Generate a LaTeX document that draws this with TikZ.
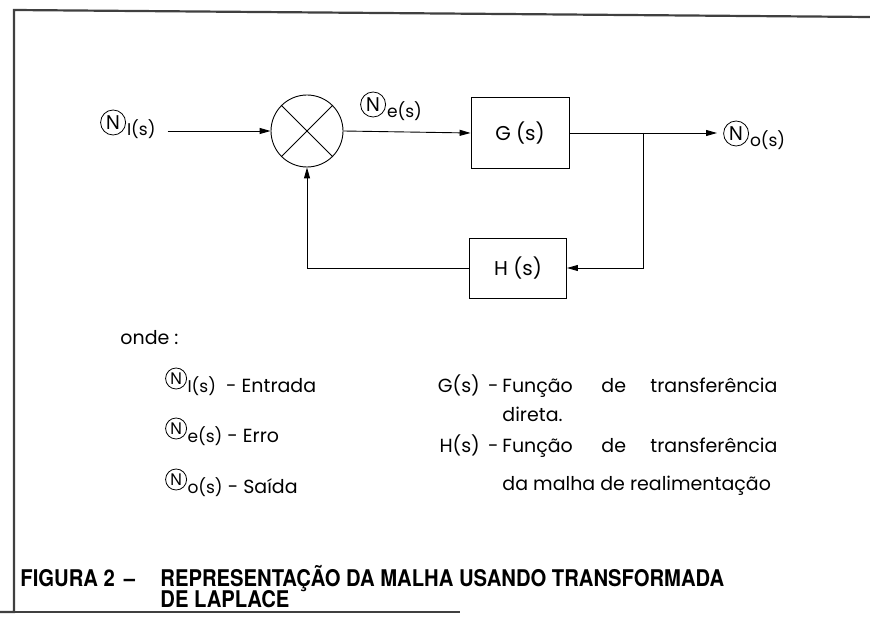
\documentclass[tikz,border=0pt]{standalone}
\usepackage{fontspec}
\setmainfont{Poppins}
\newfontfamily\capfont{TeX Gyre Heros}
\newfontfamily\nfont{TeX Gyre Heros}
\usetikzlibrary{arrows.meta,calc}
% circled N drawn as a ring round the letter N: #1 radius, #2 font size, #3 baseline offset (radius+raise)
\newcommand{\cNsym}[3]{\tikz[baseline={([yshift=-#3pt]cnaux.center)}]{\node[inner sep=0pt,font=\nfont\fontsize{#2}{#2}\selectfont] (cnaux) {N};\draw[line width=0.8pt] (cnaux.center) circle[radius=#1pt];}}
\newcommand{\cN}[1]{\cNsym{10.5}{16}{13.5}\kern0.5pt{\fontsize{17}{18}\selectfont #1}}
\newcommand{\cNd}[1]{\cNsym{12.5}{19}{13.5}\kern1pt{\fontsize{17}{18}\selectfont #1}}
\begin{document}
\begin{tikzpicture}[x=1pt,y=-1pt,line width=0.9pt,
  blk/.style={draw,minimum width=98pt,minimum height=71pt,inner sep=0pt,font=\fontsize{20}{24}\selectfont},
  arr/.style={-{Triangle[length=11pt,width=6pt]}},
  lbl/.style={inner sep=0pt,anchor=base west,font=\fontsize{19}{24}\selectfont},
  txt/.style={inner sep=0pt,anchor=base west,font=\fontsize{19}{23}\selectfont},
  captxt/.style={inner sep=0pt,anchor=base west,font=\capfont\bfseries\fontsize{23}{24}\selectfont}]
\useasboundingbox (0,0) rectangle (870,620);
\draw[line width=2.2pt,black!75] (870,17) -- (14,10) -- (14,612) -- (0,612);
\draw[line width=2.2pt,black!75] (14,612) -- (460,612);
% diagram
\node[lbl] (ni) at (100,136) {\cNd{I(s)}};
\node[draw,circle,minimum size=72pt,inner sep=0pt] (sum) at (307,131) {};
\draw (sum.north west) -- (sum.south east);
\draw (sum.north east) -- (sum.south west);
\node[blk] (G) at (520,133) {G (s)};
\node[blk,minimum height=60pt,minimum width=97pt] (H) at (518,268) {H (s)};
\node[lbl] (ne) at (360,118) {\cNd{e(s)}};
\node[lbl] (no) at (723,147) {\cNd{o(s)}};
\coordinate (br) at (643,133);
\draw[arr] ([xshift=12pt]ni.east |- sum.west) -- (sum.west);
\draw[arr] (sum.east) -- (G.west);
\draw[arr] (G.east) -- ([xshift=-6pt]no.west |- G.east);
\draw[arr] (br) |- (H.east);
\draw[arr] (H.west) -| (sum.south);
% legend
\node[txt] (onde) at (120,344) {onde :};
\node[txt] (li) at (165,392) {\cN{I(s)} \ - Entrada};
\node[txt] (le) at (165,442) {\cN{e(s)} - Erro};
\node[txt] (lo) at (165,493) {\cN{o(s)} - Saída};
\node[txt,anchor=base east] (gs) at (499,392) {G(s) \,-};
\node[txt] (gf1) at (502,392) {Função};
\node[txt] (gf2) at (601,392) {de};
\node[txt] (gf3) at (650,392) {transferência};
\node[txt] (gd) at (502,421) {direta.};
\node[txt,anchor=base east] (hs) at (499,452) {H(s) \,-};
\node[txt] (hf1) at (502,452) {Função};
\node[txt] (hf2) at (601,452) {de};
\node[txt] (hf3) at (650,452) {transferência};
\node[txt] (hd) at (502,490) {da malha de realimentação};
% caption
\node[captxt] (fig) at (20,586) {\scalebox{0.88}[1]{FIGURA 2 \,–}};
\node[captxt] (c1) at (160,586) {\scalebox{0.88}[1]{REPRESENTAÇÃO DA MALHA USANDO TRANSFORMADA}};
\node[captxt] (c2) at (160,607) {\scalebox{0.88}[1]{DE LAPLACE}};
\end{tikzpicture}
\end{document}
